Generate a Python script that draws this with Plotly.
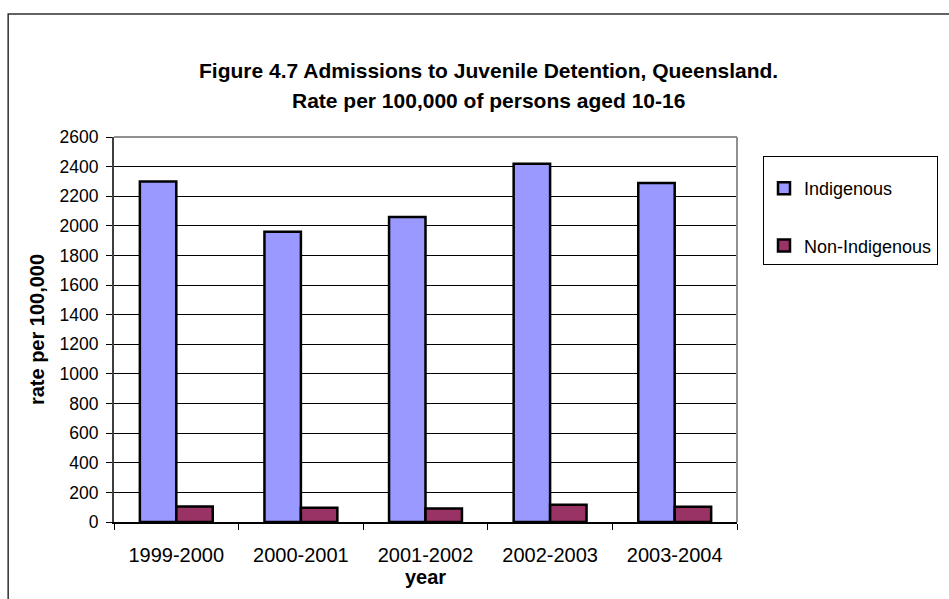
import plotly.graph_objects as go

# Admissions to juvenile detention, Queensland (rate per 100,000 aged 10-16)
years = ["1999-2000", "2000-2001", "2001-2002", "2002-2003", "2003-2004"]
indigenous = [2300, 1960, 2060, 2420, 2290]
non_indigenous = [105, 97, 92, 117, 103]
y_ticks = list(range(0, 2601, 200))

FONT = "Liberation Sans, Arial, sans-serif"

fig = go.Figure()
fig.add_trace(go.Bar(
    name="Indigenous", x=years, y=indigenous, legendgroup="a",
    marker=dict(color="#9999FF", line=dict(color="#000000", width=2.5)),
))
fig.add_trace(go.Bar(
    name="Non-Indigenous", x=years, y=non_indigenous, legendgroup="b",
    marker=dict(color="#993366", line=dict(color="#000000", width=2.5)),
))

W, H = 949, 599
L, R, T, B = 114, 738, 137, 522


def px_x(px):
    return (px - L) / (R - L)


def px_y(py):
    return (B - py) / (B - T)


fig.update_layout(
    width=W, height=H,
    margin=dict(l=L, r=W - R, t=T, b=H - B, pad=0),
    paper_bgcolor="white", plot_bgcolor="white",
    barmode="group", bargap=0.415, bargroupgap=0,
    font=dict(family=FONT, color="#000000"),
    showlegend=True,
    legend=dict(
        x=px_x(763), y=px_y(156), xanchor="left", yanchor="top",
        bordercolor="#000000", borderwidth=1, bgcolor="white",
        font=dict(size=18, family=FONT),
        title=dict(text=" ", font=dict(size=10)),
        tracegroupgap=31, traceorder="grouped",
    ),
    xaxis=dict(
        showline=True, linecolor="#000000", linewidth=1.5,
        ticks="outside", ticklen=6, tickcolor="#000000", tickwidth=1,
        tickson="boundaries", ticklabelstandoff=14,
        tickfont=dict(size=20, family=FONT),
        showgrid=False,
        title=dict(text="<b>year</b>", font=dict(size=20, family=FONT), standoff=0),
    ),
    yaxis=dict(
        range=[0, 2600], tickvals=y_ticks,
        showline=True, linecolor="#404040", linewidth=2,
        ticks="outside", ticklen=6, tickcolor="#000000", tickwidth=1,
        ticklabelstandoff=4,
        tickfont=dict(size=17.5, family=FONT),
        showgrid=True, gridcolor="#000000", gridwidth=1,
        zeroline=False,
        title=dict(text="<b>rate per 100,000</b>", font=dict(size=20, family=FONT), standoff=10),
    ),
    annotations=[
        dict(text="<b>Figure 4.7 Admissions to Juvenile Detention, Queensland.</b>",
             xref="paper", yref="paper", x=px_x(489), y=px_y(71),
             xanchor="center", yanchor="middle", showarrow=False,
             font=dict(size=21, family=FONT)),
        dict(text="<b>Rate per 100,000 of persons aged 10-16</b>",
             xref="paper", yref="paper", x=px_x(489), y=px_y(100),
             xanchor="center", yanchor="middle", showarrow=False,
             font=dict(size=21, family=FONT)),
    ],
    shapes=[
        # plot-area frame (top and right edges)
        dict(type="line", xref="paper", yref="paper", x0=0, x1=1, y0=1, y1=1,
             line=dict(color="#909090", width=2)),
        dict(type="line", xref="paper", yref="paper", x0=1, x1=1, y0=0, y1=1,
             line=dict(color="#909090", width=2)),
        # chart-area border
        dict(type="rect", xref="paper", yref="paper",
             x0=px_x(8), x1=px_x(960), y0=px_y(610), y1=px_y(14),
             line=dict(color="#303030", width=1.5), fillcolor="rgba(0,0,0,0)"),
    ],
)

fig.write_html("out.html")
